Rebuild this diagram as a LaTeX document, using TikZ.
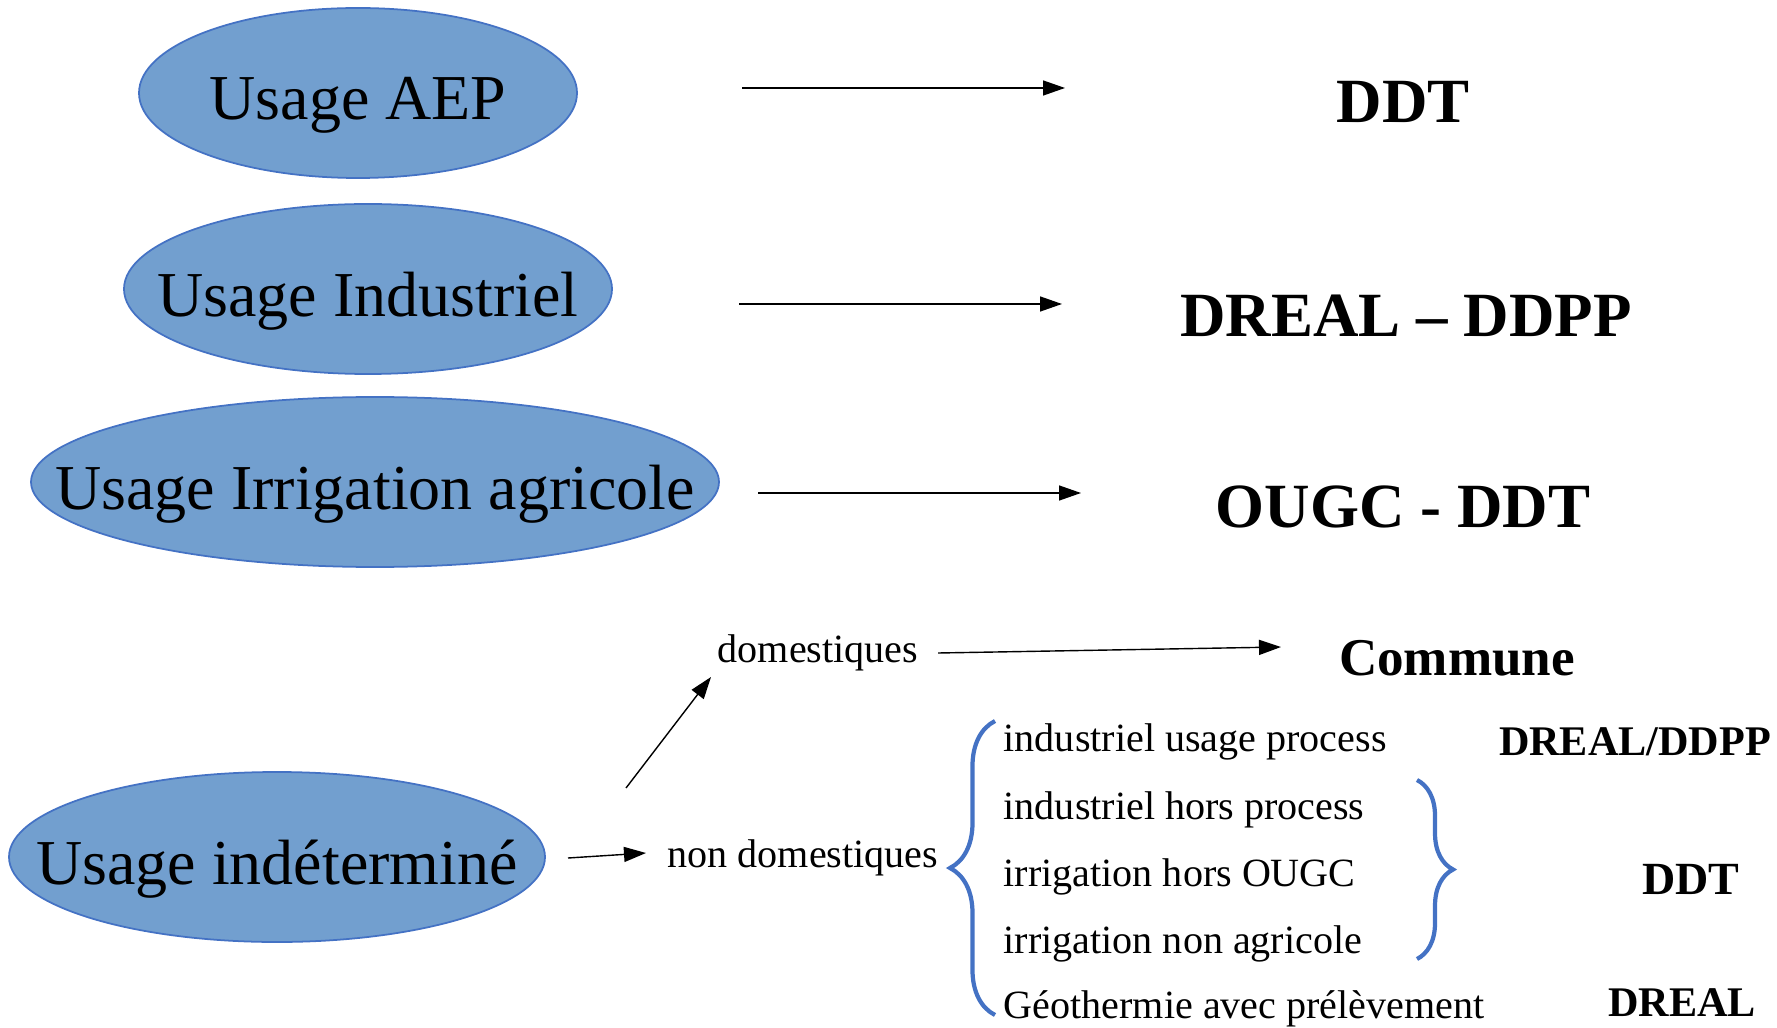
\documentclass[tikz,border=0pt]{standalone}
\usepackage{fontspec}
\setmainfont{Liberation Serif}
\usetikzlibrary{arrows.meta,decorations.pathreplacing}
\definecolor{usagefill}{RGB}{114,159,207}
\definecolor{usageline}{RGB}{68,114,196}

\begin{document}
\begin{tikzpicture}[x=0.01cm,y=-0.01cm,
    usage/.style={fill=usagefill,draw=usageline,line width=0.5pt},
    usagetxt/.style={font=\fontsize{18.2}{20}\selectfont,yshift=-0.12cm},
    authbig/.style={font=\fontsize{17.9}{20}\selectfont\bfseries},
    smalltxt/.style={font=\fontsize{11.4}{13}\selectfont},
    arr/.style={-{Triangle[length=0.22cm,width=0.15cm]},line width=0.4pt},
    curly/.style={draw=usageline,line width=1.2pt,decorate}]
    \useasboundingbox (0,0) rectangle (1777,1028);

    % usages with one authority each
    \foreach \nm/\cx/\cy/\rx/\usg/\lx/\ly/\auth/\ax/\ay in {
        aep/358/93/219/Usage AEP/1403/102/DDT/742/88,
        indus/368/289/244/Usage Industriel/1406/316/DREAL – DDPP/739/304,
        irrig/375/482/344/Usage Irrigation agricole/1403/507/OUGC - DDT/758/493} {
        \draw[usage] (\cx,\cy) ellipse [x radius=\rx, y radius=85] node[usagetxt] (\nm) {\usg};
        \node[authbig] (\nm-auth) at (\lx,\ly) {\auth};
        \coordinate (\nm-from) at (\ax,\ay);
        \coordinate (\nm-to) at ({\ax+323},\ay);
        \draw[arr] (\nm-from) -- (\nm-to);
    }

    % undetermined usage
    \draw[usage] (277,857) ellipse [x radius=268, y radius=85] node[usagetxt] (indet) {Usage indéterminé};
    \node[smalltxt] (dom) at (818,653) {domestiques};
    \node[smalltxt] (nondom) at (803,858) {non domestiques};
    \node[font=\fontsize{15.1}{17}\selectfont\bfseries] (commune) at (1457,658) {Commune};
    \coordinate (up-from) at (626,788);
    \coordinate (up-to) at (711,677);
    \coordinate (side-from) at (568,858);
    \coordinate (side-to) at (646,853);
    \coordinate (dom-from) at (938,653);
    \coordinate (dom-to) at (1281,647);
    \draw[arr] (up-from) -- (up-to);
    \draw[arr] (side-from) -- (side-to);
    \draw[arr] (dom-from) -- (dom-to);

    \foreach \y/\txt [count=\i] in {742/industriel usage process,810/industriel hors process,
        877/irrigation hors OUGC,944/irrigation non agricole,1009/Géothermie avec prélèvement}
        \node[smalltxt,anchor=west,inner sep=0pt] (item\i) at (1003,\y) {\txt};

    \draw[curly,decoration={brace,amplitude=0.45cm}] (995,1015) -- (995,721);
    \draw[curly,decoration={brace,amplitude=0.36cm}] (1417,780) -- (1417,959);

    \node[font=\fontsize{12}{14}\selectfont\bfseries] (dreal-ddpp) at (1635,742) {DREAL/DDPP};
    \node[font=\fontsize{13.1}{15}\selectfont\bfseries] (ddt-small) at (1691,879) {DDT};
    \node[font=\fontsize{12}{14}\selectfont\bfseries] (dreal) at (1682,1003) {DREAL};
\end{tikzpicture}
\end{document}
